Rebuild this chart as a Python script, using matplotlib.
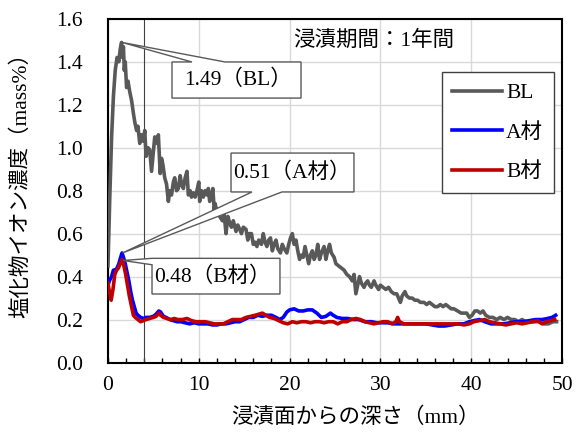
import matplotlib
matplotlib.use("Agg")
import matplotlib.pyplot as plt
from matplotlib.patches import Polygon
from matplotlib.ticker import MultipleLocator

plt.rcParams['font.family'] = ['Liberation Serif', 'Noto Sans CJK JP', 'DejaVu Sans']

# values (depth mm, chloride mass%)
bl_x = [0.0, 0.2, 0.4, 0.6, 0.8, 1.0, 1.2, 1.35, 1.5, 1.6, 1.7, 1.8, 1.9, 2.05, 2.2, 2.4, 2.6, 2.8,
        2.95, 3.15, 3.3, 3.5, 3.7, 3.9, 4.05, 4.2, 4.4, 4.6, 4.8, 5.0, 5.15, 5.35, 5.55, 5.75, 5.9,
        6.05, 6.25, 6.45, 6.65, 6.8, 7.0, 7.2, 7.35, 7.55, 7.75, 7.95, 8.1, 8.3, 8.5, 8.7, 8.85,
        9.05, 9.2, 9.4, 9.6, 9.8, 10.0, 10.1, 10.3, 10.5, 10.7, 10.9, 11.05, 11.2, 11.4, 11.55,
        11.7, 11.8, 12.0, 12.3, 12.6, 12.8, 13.0, 13.2, 13.4, 13.6, 13.8, 14.1, 14.3, 14.5, 14.7,
        14.9, 15.2, 15.4, 15.6, 15.8, 16.0, 16.2, 16.4, 16.6, 16.9, 17.1, 17.3, 17.5, 17.7, 17.9,
        18.1, 18.3, 18.5, 18.7, 19.0, 19.2, 19.4, 19.7, 19.9, 20.1, 20.3, 20.5, 20.7, 20.9, 21.1,
        21.3, 21.5, 21.7, 21.9, 22.1, 22.3, 22.5, 22.7, 22.9, 23.1, 23.3, 23.5, 23.8, 24.0, 24.2,
        24.4, 24.6, 24.9, 25.1, 25.4, 25.7, 26.0, 26.3, 26.6, 26.9, 27.1, 27.3, 27.5, 27.7, 27.9,
        28.2, 28.4, 28.6, 28.8, 29.0, 29.3, 29.5, 29.8, 30.0, 30.3, 30.6, 30.9, 31.2, 31.5, 31.8,
        32.0, 32.2, 32.4, 32.7, 32.9, 33.2, 33.5, 33.8, 34.1, 34.4, 34.8, 35.1, 35.4, 35.7, 36.0,
        36.3, 36.6, 36.9, 37.2, 37.5, 37.8, 38.1, 38.5, 38.9, 39.2, 39.5, 39.8, 40.1, 40.4, 40.7,
        41.0, 41.3, 41.6, 42.0, 42.4, 42.8, 43.2, 43.6, 44.0, 44.4, 44.8, 45.2, 45.6, 46.0, 46.5,
        47.0, 47.5, 48.0, 48.5, 49.0, 49.4]
bl_y = [0.45, 0.77, 1.05, 1.24, 1.36, 1.42, 1.40, 1.46, 1.49, 1.42, 1.47, 1.36, 1.40, 1.28, 1.31,
        1.26, 1.22, 1.16, 1.12, 1.08, 1.10, 1.02, 1.06, 1.03, 1.08, 0.96, 1.00, 0.99, 0.89, 0.98,
        1.05, 1.02, 1.06, 0.88, 0.95, 0.92, 0.86, 0.83, 0.75, 0.80, 0.78, 0.84, 0.86, 0.80, 0.81,
        0.87, 0.83, 0.81, 0.86, 0.89, 0.78, 0.80, 0.77, 0.79, 0.77, 0.80, 0.84, 0.75, 0.80, 0.77,
        0.80, 0.78, 0.81, 0.75, 0.78, 0.81, 0.71, 0.74, 0.70, 0.68, 0.66, 0.69, 0.60, 0.68, 0.65,
        0.63, 0.66, 0.61, 0.64, 0.62, 0.60, 0.63, 0.62, 0.57, 0.60, 0.60, 0.55, 0.56, 0.54, 0.57,
        0.55, 0.60, 0.56, 0.54, 0.57, 0.58, 0.52, 0.55, 0.57, 0.53, 0.51, 0.55, 0.53, 0.51, 0.55,
        0.58, 0.60, 0.55, 0.57, 0.52, 0.48, 0.50, 0.49, 0.54, 0.50, 0.46, 0.50, 0.52, 0.48, 0.50,
        0.55, 0.48, 0.51, 0.54, 0.48, 0.52, 0.55, 0.51, 0.49, 0.46, 0.45, 0.44, 0.43, 0.41, 0.40,
        0.38, 0.41, 0.32, 0.36, 0.40, 0.37, 0.35, 0.37, 0.38, 0.36, 0.35, 0.38, 0.36, 0.34, 0.36,
        0.35, 0.34, 0.35, 0.33, 0.32, 0.32, 0.30, 0.28, 0.31, 0.33, 0.31, 0.30, 0.30, 0.29, 0.29,
        0.28, 0.28, 0.27, 0.28, 0.27, 0.26, 0.26, 0.27, 0.26, 0.27, 0.26, 0.25, 0.25, 0.24, 0.23,
        0.23, 0.23, 0.21, 0.22, 0.24, 0.24, 0.23, 0.24, 0.22, 0.21, 0.21, 0.20, 0.21, 0.20, 0.21,
        0.20, 0.20, 0.19, 0.20, 0.19, 0.19, 0.19, 0.19, 0.18, 0.18, 0.19, 0.19]

a_x = [0.0, 0.15, 0.4, 0.6, 0.8, 1.0, 1.2, 1.4, 1.55, 1.7, 1.9, 2.1, 2.3, 2.5, 2.7, 2.9, 3.1, 3.3,
       3.6, 3.9, 4.2, 4.6, 5.0, 5.3, 5.6, 5.8, 6.1, 6.4, 6.8, 7.2, 7.6, 8.0, 8.5, 9.0, 9.5, 10.0,
       10.5, 11.0, 11.5, 12.0, 12.5, 13.0, 13.5, 14.0, 14.5, 15.0, 15.5, 16.0, 16.5, 17.0, 17.5,
       18.0, 18.5, 18.9, 19.3, 19.7, 20.0, 20.5, 21.0, 21.5, 22.0, 22.5, 23.0, 23.5, 24.0, 24.5,
       24.8, 25.2, 25.8, 26.4, 27.0, 27.6, 28.3, 29.0, 29.6, 30.2, 30.8, 31.5, 32.2, 32.9, 33.6,
       34.3, 35.0, 35.7, 36.4, 37.1, 37.8, 38.5, 39.2, 39.8, 40.3, 40.9, 41.5, 42.2, 42.9, 43.6,
       44.3, 45.0, 45.7, 46.4, 47.1, 47.8, 48.4, 48.9, 49.3]
a_y = [0.36, 0.38, 0.40, 0.43, 0.43, 0.44, 0.46, 0.49, 0.51, 0.49, 0.46, 0.42, 0.38, 0.33, 0.29,
       0.26, 0.23, 0.22, 0.21, 0.205, 0.21, 0.21, 0.215, 0.225, 0.24, 0.235, 0.215, 0.21, 0.20,
       0.195, 0.19, 0.19, 0.185, 0.18, 0.185, 0.18, 0.18, 0.18, 0.175, 0.175, 0.18, 0.18, 0.185,
       0.19, 0.19, 0.20, 0.21, 0.21, 0.22, 0.215, 0.22, 0.22, 0.21, 0.20, 0.21, 0.235, 0.245,
       0.25, 0.24, 0.24, 0.245, 0.245, 0.23, 0.21, 0.215, 0.23, 0.22, 0.21, 0.205, 0.205, 0.20,
       0.20, 0.19, 0.19, 0.185, 0.185, 0.185, 0.18, 0.18, 0.18, 0.18, 0.18, 0.18, 0.175, 0.17,
       0.17, 0.175, 0.18, 0.18, 0.19, 0.195, 0.20, 0.19, 0.18, 0.18, 0.18, 0.185, 0.19, 0.19,
       0.195, 0.20, 0.20, 0.205, 0.21, 0.22]

b_x = [0.0, 0.15, 0.35, 0.55, 0.75, 0.95, 1.15, 1.35, 1.55, 1.75, 1.95, 2.15, 2.35, 2.6, 2.8, 3.0,
       3.3, 3.6, 3.9, 4.2, 4.6, 5.0, 5.3, 5.6, 5.8, 6.1, 6.5, 6.9, 7.3, 7.7, 8.2, 8.7, 9.2, 9.7,
       10.2, 10.7, 11.2, 11.7, 12.2, 12.7, 13.2, 13.7, 14.2, 14.7, 15.2, 15.7, 16.2, 16.6, 17.0,
       17.4, 17.8, 18.3, 18.8, 19.3, 19.8, 20.3, 20.8, 21.3, 21.8, 22.3, 22.8, 23.3, 23.8, 24.3,
       24.8, 25.3, 25.8, 26.3, 26.8, 27.3, 27.8, 28.3, 28.8, 29.3, 29.8, 30.3, 30.8, 31.3, 31.7,
       31.9, 32.1, 32.6, 33.2, 33.8, 34.4, 35.0, 35.6, 36.2, 36.8, 37.4, 38.0, 38.6, 39.2, 39.8,
       40.3, 40.9, 41.5, 42.0, 42.6, 43.2, 43.8, 44.4, 45.0, 45.6, 46.2, 46.8, 47.3, 47.8, 48.3,
       48.8, 49.2]
b_y = [0.37, 0.33, 0.29, 0.34, 0.41, 0.43, 0.44, 0.46, 0.48, 0.45, 0.41, 0.36, 0.31, 0.26, 0.22,
       0.21, 0.20, 0.19, 0.195, 0.20, 0.205, 0.21, 0.215, 0.23, 0.22, 0.21, 0.205, 0.20, 0.205,
       0.20, 0.20, 0.205, 0.195, 0.19, 0.19, 0.19, 0.185, 0.18, 0.18, 0.18, 0.19, 0.20, 0.20,
       0.20, 0.21, 0.215, 0.22, 0.225, 0.23, 0.22, 0.21, 0.205, 0.195, 0.185, 0.18, 0.19, 0.185,
       0.19, 0.19, 0.185, 0.19, 0.19, 0.185, 0.19, 0.19, 0.18, 0.19, 0.19, 0.20, 0.205, 0.20,
       0.19, 0.185, 0.18, 0.185, 0.19, 0.19, 0.18, 0.19, 0.21, 0.19, 0.18, 0.18, 0.18, 0.18, 0.18,
       0.18, 0.18, 0.18, 0.18, 0.18, 0.18, 0.175, 0.18, 0.19, 0.195, 0.20, 0.19, 0.185, 0.18,
       0.175, 0.18, 0.185, 0.18, 0.185, 0.19, 0.195, 0.18, 0.19, 0.195, 0.20]

labels = ['BL', 'A材', 'B材']
colors = ['#595959', '#0000FF', '#C00000']
callouts = ['1.49（BL）', '0.51（A材）', '0.48（B材）']
title = '浸漬期間：1年間'

fs = 15.5

fig = plt.figure(figsize=(5.83, 4.34), dpi=100)
ax = fig.add_axes([0.1852, 0.1647, 0.7788, 0.792])

for xs, ys, lab, c in zip([bl_x, a_x, b_x], [bl_y, a_y, b_y], labels, colors):
    ax.plot(xs, ys, color=c, lw=2.6, label=lab, zorder=3)

ax.axvline(4, color='#404040', lw=0.8, zorder=2)

ax.set_xlim(0, 50)
ax.set_ylim(0, 1.6)
ax.xaxis.set_major_locator(MultipleLocator(10))
ax.xaxis.set_minor_locator(MultipleLocator(2))
ax.yaxis.set_major_locator(MultipleLocator(0.2))
ax.yaxis.set_major_formatter(matplotlib.ticker.FormatStrFormatter('%.1f'))
ax.grid(True, which='major', color='#D9D9D9', lw=1.0, zorder=0)
ax.set_axisbelow(True)
ax.tick_params(axis='x', which='both', direction='in', length=3.5, width=1, labelsize=fs, pad=10)
ax.tick_params(axis='y', length=0, labelsize=fs, pad=18)
for s in ax.spines.values():
    s.set_linewidth(1.5)

ax.set_xlabel('浸漬面からの深さ（mm）', fontsize=fs)
ax.set_ylabel('塩化物イオン濃度（mass%）', fontsize=fs)
ax.xaxis.set_label_coords(0.545, -0.13)
ax.yaxis.set_label_coords(-0.168, 0.53)

# callout shapes (box + pointer), in data coordinates
edge = '#595959'
shapes = [
    [(7.05, 1.231), (21.26, 1.231), (21.26, 1.399), (12.89, 1.399), (1.55, 1.49), (9.25, 1.399), (7.05, 1.399)],
    [(13.55, 0.794), (15.86, 0.794), (1.6, 0.51), (19.16, 0.794), (27.09, 0.794), (27.09, 0.975), (13.55, 0.975)],
    [(4.85, 0.319), (18.94, 0.319), (18.94, 0.485), (4.85, 0.485), (1.65, 0.475), (4.85, 0.455)],
]
text_pos = [(8.4, 1.315), (13.75, 0.885), (5.1, 0.40)]
for pts, txt, (tx, ty) in zip(shapes, callouts, text_pos):
    ax.add_patch(Polygon(pts, closed=True, fc='white', ec=edge, lw=1.0, zorder=5))
    ax.text(tx, ty, txt, fontsize=fs, va='center', ha='left', zorder=6)

ax.text(20.4, 1.50, title, fontsize=fs, va='center', ha='left', zorder=6)

leg = ax.legend(loc='upper left', bbox_to_anchor=(0.735, 0.844), fontsize=fs,
                frameon=True, fancybox=False, edgecolor='#404040', framealpha=1,
                handlelength=2.3, handletextpad=0.2, labelspacing=0.9, borderpad=0.5,
                borderaxespad=0)
leg.get_frame().set_linewidth(1.0)
leg.set_zorder(7)

fig.savefig('out.png', dpi=100)
